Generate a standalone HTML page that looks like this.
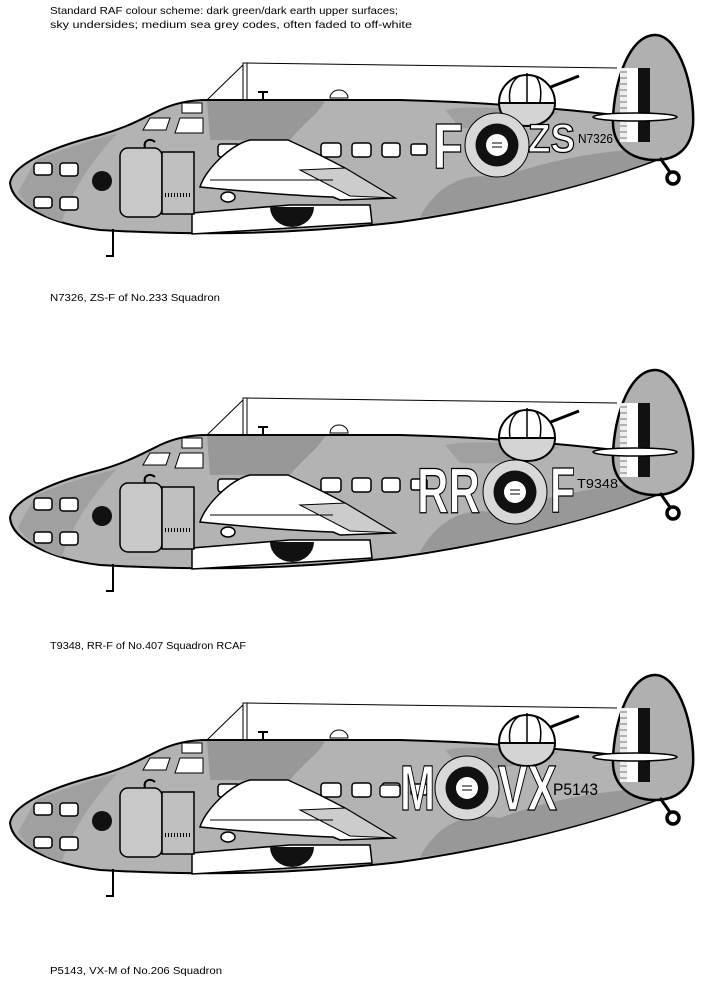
<!DOCTYPE html>
<html><head><meta charset="utf-8"><style>
html,body{margin:0;padding:0;background:#fff;}
svg{display:block;}
text{font-family:"Liberation Sans",sans-serif;}
</style></head><body>
<svg width="705" height="984" viewBox="0 0 705 984" xmlns="http://www.w3.org/2000/svg">
<defs>
<g id="plane">
  <line x1="245" y1="63" x2="617" y2="68" stroke="#000" stroke-width="1"/>
  <line x1="245" y1="63" x2="207" y2="100" stroke="#000" stroke-width="1"/>
  <rect x="243" y="63" width="4" height="38" fill="#fff" stroke="#000" stroke-width="1"/>
  <path d="M330,98 A9,8 0 0 1 348,98 Z" fill="#fff" stroke="#000"/>
  <path d="M258,92 h10 M263,92 v8" stroke="#000" stroke-width="2"/>
  <path d="M10,183 C12,168 40,150 100,135 C125,128 140,120 160,110 C175,103 190,100 207,100 L400,100 C480,102 560,108 640,118 L662,158 C600,182 500,208 400,222 C300,234 200,236 100,230 C50,224 12,205 10,183 Z" fill="#b3b3b3" stroke="#000" stroke-width="2"/>
  <path d="M207,101 L325,101 C318,115 300,125 282,150 L250,140 L210,140 Z" fill="#989898"/>
  <path d="M420,217 C440,180 470,172 500,178 C540,162 600,150 655,148 L660,158 C600,182 500,207 420,217 Z" fill="#989898"/>
  <path d="M36,160 C60,150 90,140 117,134 C92,160 72,190 62,222 C40,216 25,204 18,192 Z" fill="#a0a0a0"/>
  <path d="M445,110 C470,105 500,108 560,112 C530,125 500,130 460,128 Z" fill="#a0a0a0"/>
  <path d="M143,130 L150,118 L170,118 L166,130 Z" fill="#fff" stroke="#000"/>
  <path d="M175,133 L180,118 L203,118 L203,133 Z" fill="#fff" stroke="#000"/>
  <rect x="182" y="103" width="20" height="10" fill="#fff" stroke="#000"/>
  <rect x="34" y="163" width="18" height="12" rx="3" fill="#fff" stroke="#000" stroke-width="1.5"/>
  <rect x="60" y="163" width="18" height="13" rx="3" fill="#fff" stroke="#000" stroke-width="1.5"/>
  <rect x="34" y="197" width="18" height="11" rx="3" fill="#fff" stroke="#000" stroke-width="1.5"/>
  <rect x="60" y="197" width="18" height="13" rx="3" fill="#fff" stroke="#000" stroke-width="1.5"/>
  <circle cx="102" cy="181" r="10" fill="#111"/>
  <rect x="218" y="144" width="22" height="13" rx="3" fill="#fff" stroke="#000" stroke-width="1.5"/>
  <rect x="321" y="143" width="20" height="14" rx="3" fill="#fff" stroke="#000" stroke-width="1.5"/>
  <rect x="352" y="143" width="19" height="14" rx="3" fill="#fff" stroke="#000" stroke-width="1.5"/>
  <rect x="382" y="143" width="18" height="14" rx="3" fill="#fff" stroke="#000" stroke-width="1.5"/>
  <rect x="411" y="144" width="16" height="11" rx="2" fill="#fff" stroke="#000" stroke-width="1.5"/>
  <path d="M192,234 L372,223 L370,205 L290,205 L192,213 Z" fill="#fff" stroke="#000" stroke-width="1.5"/>
  <rect x="120" y="148" width="42" height="69" rx="8" fill="#c8c8c8" stroke="#000" stroke-width="1.5"/>
  <rect x="162" y="152" width="32" height="62" fill="#c0c0c0" stroke="#000" stroke-width="1.5"/>
  <path d="M145,148 C143,140 150,138 155,142" fill="none" stroke="#000" stroke-width="2"/>
  <path d="M165,195 h25" stroke="#000" stroke-dasharray="1,2" stroke-width="4"/>
  <path d="M200,187 C205,170 230,145 250,140 L288,140 C310,150 330,160 345,168 L395,198 L340,200 L333,197 C300,196 250,192 200,187 Z" fill="#fff" stroke="#000" stroke-width="1.5"/>
  <path d="M300,170 L345,168 L395,198 L350,196 Z" fill="#ccc" stroke="#000"/>
  <path d="M210,180 L333,180" stroke="#000" stroke-width="1"/>
  <ellipse cx="228" cy="197" rx="7" ry="5" fill="#fff" stroke="#000" stroke-width="1.5"/>
  <path d="M270,207 A22,20 0 0 0 314,207 Z" fill="#111"/>
  <path d="M113,229 L113,256 L106,256" fill="none" stroke="#000" stroke-width="2"/>
  <line x1="543" y1="90" x2="579" y2="76" stroke="#000" stroke-width="3"/>
  <path d="M499,103 A28,28 0 0 1 555,103 Z" fill="#fff" stroke="#000" stroke-width="2"/>
  <path d="M499,103 L555,103 C555,115 545,126 527,126 C509,126 499,115 499,103 Z" fill="#d4d4d4" stroke="#000" stroke-width="2"/>
  <path d="M510,103 C508,90 512,80 520,76 M527,103 V73 M540,103 C542,90 540,80 535,76" fill="none" stroke="#000" stroke-width="1.5"/>
  <path d="M655,35 C680,35 695,90 693,125 C691,150 675,160 655,160 C630,160 612,145 613,120 C614,80 630,35 655,35 Z" fill="#b0b0b0" stroke="#000" stroke-width="2.5"/>
  <rect x="620" y="68" width="7" height="74" fill="#eee"/>
  <path d="M620,72h7M620,78h7M620,84h7M620,90h7M620,96h7M620,102h7M620,108h7M620,114h7M620,120h7M620,126h7M620,132h7M620,138h7" stroke="#000" stroke-width="0.6"/>
  <rect x="627" y="68" width="11" height="74" fill="#fff"/>
  <rect x="638" y="68" width="12" height="74" fill="#111"/>
  <ellipse cx="635" cy="117" rx="42" ry="4" fill="#fff" stroke="#000" stroke-width="1.5"/>
  <path d="M660,158 L672,175" stroke="#000" stroke-width="3"/>
  <circle cx="673" cy="178" r="6" fill="#fff" stroke="#000" stroke-width="3.5"/>
</g>
<g id="roundel">
  <circle r="32" fill="#d8d8d8" stroke="#000" stroke-width="1"/>
  <circle r="21.5" fill="#111"/>
  <circle r="11" fill="#fff"/>
  <path d="M-5,-2h10M-5,2h10" stroke="#000" stroke-width="1"/>
</g>
</defs>

<text x="50" y="14" font-size="10.5" textLength="348" lengthAdjust="spacingAndGlyphs">Standard RAF colour scheme: dark green/dark earth upper surfaces;</text>
<text x="50" y="28" font-size="10.5" textLength="362" lengthAdjust="spacingAndGlyphs">sky undersides; medium sea grey codes, often faded to off-white</text>

<use href="#plane"/>
<use href="#roundel" x="497" y="145"/>
<g fill="#fff" stroke="#000" stroke-width="1.3" font-weight="bold">
<text x="433" y="168" font-size="64" textLength="30" lengthAdjust="spacingAndGlyphs">F</text>
<text x="528" y="152" font-size="40" textLength="47" lengthAdjust="spacingAndGlyphs">ZS</text>
</g>
<text x="578" y="143" font-size="13" textLength="35" lengthAdjust="spacingAndGlyphs">N7326</text>
<text x="50" y="301" font-size="10" textLength="170" lengthAdjust="spacingAndGlyphs">N7326, ZS-F of No.233 Squadron</text>

<use href="#plane" y="335"/>
<use href="#roundel" x="515" y="492"/>
<g fill="#fff" stroke="#000" stroke-width="1.3" font-weight="bold">
<text x="417" y="513" font-size="64" textLength="63" lengthAdjust="spacingAndGlyphs">RR</text>
<text x="550" y="512" font-size="64" textLength="25" lengthAdjust="spacingAndGlyphs">F</text>
</g>
<text x="577" y="488" font-size="13" textLength="41" lengthAdjust="spacingAndGlyphs">T9348</text>
<text x="50" y="649" font-size="10" textLength="196" lengthAdjust="spacingAndGlyphs">T9348, RR-F of No.407 Squadron RCAF</text>

<use href="#plane" y="640"/>
<use href="#roundel" x="467" y="788"/>
<g fill="#fff" stroke="#000" stroke-width="1.3" font-weight="bold">
<rect x="380" y="785" width="20" height="12" rx="3"/>
<text x="400" y="810" font-size="64" textLength="35" lengthAdjust="spacingAndGlyphs">M</text>
<text x="498" y="810" font-size="64" textLength="59" lengthAdjust="spacingAndGlyphs">VX</text>
</g>
<text x="553" y="795" font-size="17" textLength="45" lengthAdjust="spacingAndGlyphs">P5143</text>
<text x="50" y="974" font-size="10" textLength="172" lengthAdjust="spacingAndGlyphs">P5143, VX-M of No.206 Squadron</text>
</svg>
</body></html>
